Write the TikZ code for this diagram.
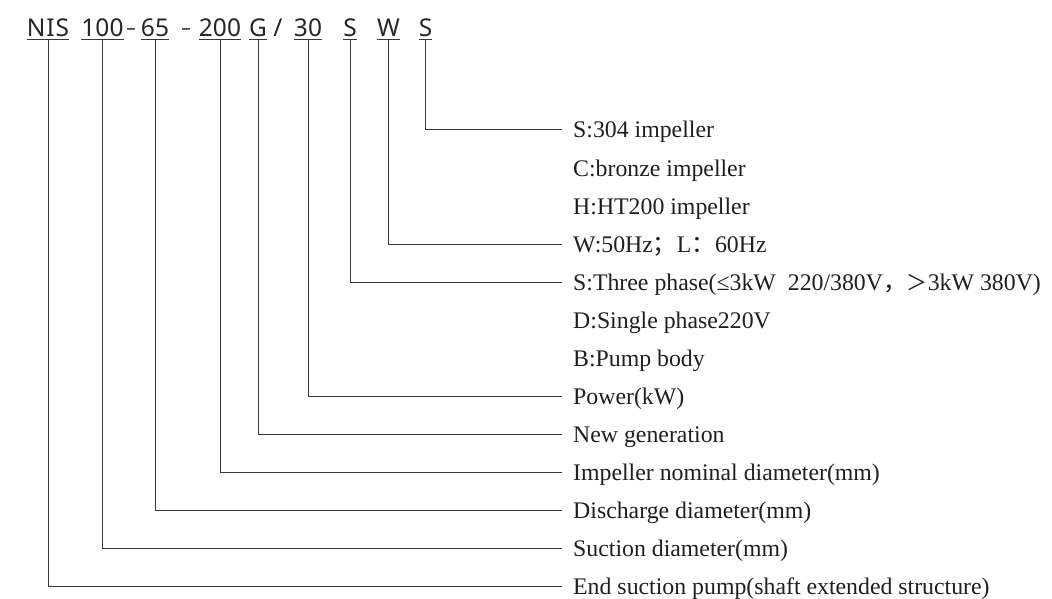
\documentclass[tikz,border=0pt]{standalone}
\usepackage{fontspec}
\setmainfont{Liberation Serif}
\newfontfamily\codefont{Noto Sans}
\newfontfamily\cjkf{Noto Sans CJK SC}
\begin{document}
\begin{tikzpicture}[x=1pt,y=-1pt,
  ln/.style={line width=1pt, draw=black!78},
  code/.style={font=\codefont\fontsize{24.5}{25}\selectfont, inner sep=0pt, anchor=base, text=black!85},
  hyph/.style={code, font=\codefont\bfseries\fontsize{19}{20}\selectfont},
  lbl/.style={font=\fontsize{23.8}{24}\selectfont, inner sep=0pt, anchor=base west, text=black!88}]
\useasboundingbox (0,0) rectangle (1052,599);
% code parts
\node[code] (c1) at (48,36.5) {N\kern1pt I\kern1pt S};
\node[code] (c2) at (102.5,36.5) {100};
\node[hyph] (h1) at (131,34.5) {–};
\node[code] (c3) at (155,36.5) {65};
\node[hyph] (h2) at (186,34.5) {–};
\node[code] (c4) at (220,36.5) {200};
\node[code] (c5) at (258,36.5) {G};
\node[code] (sl) at (278,36.5) {/};
\node[code] (c6) at (308,36.5) {30};
\node[code] (c7) at (350,36.5) {S};
\node[code] (c8) at (388.5,36.5) {W};
\node[code] (c9) at (425.5,36.5) {S};
% underlines and stem tops
\foreach \i in {1,...,9}{
  \draw[ln] ([yshift=-3pt]c\i.base west) -- ([yshift=-3pt]c\i.base east);
  \coordinate (u\i) at ([yshift=-3pt]c\i.base);
}
% line ends
\coordinate (e9) at (562,130);
\coordinate (e8) at (562,244);
\coordinate (e7) at (562,282);
\coordinate (e6) at (562,396);
\coordinate (e5) at (562,434);
\coordinate (e4) at (562,472);
\coordinate (e3) at (562,510);
\coordinate (e2) at (562,548);
\coordinate (e1) at (562,586);
% labels
\node[lbl] (l9) at (573,138) {S:304 impeller};
\node[lbl] (lc) at (573,176) {C:bronze impeller};
\node[lbl] (lh) at (573,214) {H:HT200 impeller};
\node[lbl] (l8) at (573,252) {W:50Hz{\cjkf ；}L{\cjkf ：}60Hz};
\node[lbl] (l7) at (573,290) {S:Three phase(≤3kW\ \ 220/380V{\cjkf ，}{\cjkf\fontsize{21}{24}\selectfont ＞}3kW 380V)};
\node[lbl] (ld) at (573,328) {D:Single phase220V};
\node[lbl] (lb) at (573,366) {B:Pump body};
\node[lbl] (l6) at (573,404) {Power(kW)};
\node[lbl] (l5) at (573,442) {New generation};
\node[lbl] (l4) at (573,480) {Impeller nominal diameter(mm)};
\node[lbl] (l3) at (573,518) {Discharge diameter(mm)};
\node[lbl] (l2) at (573,556) {Suction diameter(mm)};
\node[lbl] (l1) at (573,594) {End suction pump(shaft extended structure)};
% connectors
\foreach \i in {1,...,9}{
  \draw[ln] (u\i) |- (e\i);
}
\end{tikzpicture}
\end{document}
